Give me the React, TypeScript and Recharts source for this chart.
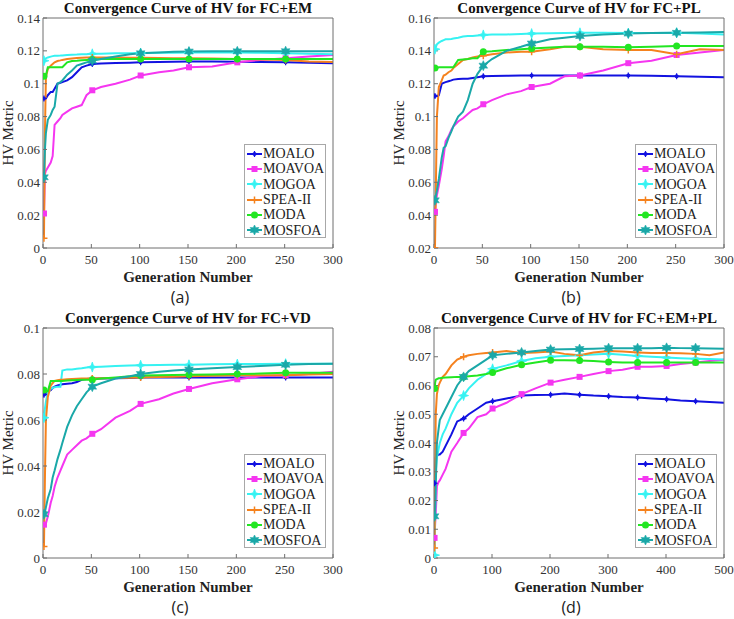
import React from "react";
import { LineChart, Line, XAxis, YAxis } from "recharts";

// generation numbers where each curve is sampled
const gens300 = [1, 2, 3, 5, 8, 10, 12, 15, 18, 20, 25, 30, 35, 40, 45, 51, 60, 75, 90, 101, 120, 135, 151, 175, 201, 225, 251, 275, 300];
const gens500 = [1, 2, 3, 5, 8, 10, 15, 20, 30, 40, 51, 60, 75, 90, 101, 125, 151, 175, 201, 225, 251, 275, 301, 325, 351, 375, 401, 425, 451, 475, 500];
// markers every 50 generations
const markerGens = [1, 51, 101, 151, 201, 251, 301, 351, 401, 451];

const algorithms = ["MOALO", "MOAVOA", "MOGOA", "SPEA-II", "MODA", "MOSFOA"];
const colors = ["#1212e0", "#f536f0", "#36f2f2", "#f5821e", "#22e622", "#1aa8a8"];
const shapes = ["dot", "square", "star4", "plus", "circle", "hexagram"];

// FC+EM
const emMoalo = [0.091, 0.091, 0.091, 0.093, 0.095, 0.095, 0.097, 0.1, 0.1005, 0.101, 0.102, 0.104, 0.107, 0.11, 0.111, 0.112, 0.1123, 0.1126, 0.1128, 0.113, 0.1132, 0.1134, 0.1135, 0.1135, 0.1134, 0.1132, 0.113, 0.1127, 0.1125];
const emMoavoa = [0.021, 0.045, 0.047, 0.049, 0.052, 0.056, 0.075, 0.077, 0.079, 0.081, 0.083, 0.085, 0.086, 0.087, 0.093, 0.096, 0.098, 0.1, 0.1025, 0.105, 0.107, 0.108, 0.11, 0.1105, 0.113, 0.1145, 0.1155, 0.1165, 0.1175];
const emMogoa = [0.114, 0.115, 0.1155, 0.116, 0.1165, 0.1168, 0.117, 0.117, 0.1171, 0.1172, 0.1175, 0.1177, 0.1178, 0.118, 0.118, 0.1182, 0.1183, 0.1185, 0.1186, 0.1187, 0.1188, 0.1189, 0.119, 0.119, 0.119, 0.1188, 0.1185, 0.1182, 0.118];
const emSpea2 = [0.006, 0.07, 0.104, 0.109, 0.111, 0.112, 0.113, 0.1138, 0.1142, 0.1145, 0.115, 0.1153, 0.1156, 0.1158, 0.116, 0.116, 0.116, 0.116, 0.1158, 0.1158, 0.1156, 0.1155, 0.1155, 0.1153, 0.115, 0.1148, 0.1145, 0.1135, 0.1132];
const emModa = [0.1045, 0.1045, 0.105, 0.11, 0.11, 0.11, 0.11, 0.11, 0.11, 0.11, 0.113, 0.1138, 0.114, 0.1143, 0.1145, 0.1148, 0.115, 0.115, 0.115, 0.115, 0.115, 0.115, 0.115, 0.115, 0.115, 0.115, 0.115, 0.115, 0.115];
const emMosfoa = [0.043, 0.06, 0.07, 0.078, 0.081, 0.084, 0.086, 0.1, 0.101, 0.102, 0.1055, 0.108, 0.111, 0.112, 0.113, 0.114, 0.115, 0.1165, 0.118, 0.1185, 0.119, 0.1195, 0.1196, 0.1197, 0.1197, 0.1198, 0.1198, 0.1198, 0.1198];

// FC+PL
const plMoalo = [0.1125, 0.1125, 0.1125, 0.113, 0.12, 0.1205, 0.121, 0.1215, 0.122, 0.1225, 0.1228, 0.123, 0.123, 0.1235, 0.124, 0.1245, 0.1247, 0.1248, 0.125, 0.125, 0.125, 0.125, 0.125, 0.125, 0.125, 0.1248, 0.1245, 0.1243, 0.124];
const plMoavoa = [0.042, 0.048, 0.052, 0.058, 0.068, 0.076, 0.085, 0.088, 0.092, 0.094, 0.097, 0.099, 0.1015, 0.104, 0.105, 0.1075, 0.11, 0.1135, 0.1155, 0.118, 0.12, 0.1245, 0.125, 0.128, 0.1325, 0.134, 0.1375, 0.139, 0.1405];
const plMogoa = [0.141, 0.1425, 0.144, 0.145, 0.146, 0.1465, 0.147, 0.147, 0.1472, 0.1475, 0.148, 0.1487, 0.149, 0.149, 0.1493, 0.1497, 0.15, 0.15, 0.1503, 0.1505, 0.1507, 0.1508, 0.151, 0.151, 0.1508, 0.1508, 0.151, 0.1505, 0.15];
const plSpea2 = [0.02, 0.06, 0.1, 0.118, 0.122, 0.125, 0.1255, 0.127, 0.128, 0.1295, 0.132, 0.1345, 0.135, 0.136, 0.1365, 0.137, 0.138, 0.139, 0.1395, 0.1395, 0.141, 0.1425, 0.1425, 0.141, 0.1405, 0.1405, 0.138, 0.141, 0.1405];
const plModa = [0.1295, 0.1295, 0.1295, 0.13, 0.13, 0.13, 0.13, 0.13, 0.13, 0.13, 0.1345, 0.1348, 0.135, 0.1355, 0.1355, 0.1395, 0.1398, 0.1405, 0.141, 0.1415, 0.142, 0.1425, 0.1425, 0.1425, 0.1422, 0.1425, 0.143, 0.143, 0.143];
const plMosfoa = [0.049, 0.052, 0.055, 0.062, 0.075, 0.081, 0.082, 0.087, 0.091, 0.094, 0.1, 0.103, 0.11, 0.12, 0.126, 0.131, 0.135, 0.14, 0.1425, 0.1445, 0.147, 0.148, 0.149, 0.15, 0.1505, 0.1508, 0.151, 0.1512, 0.1515];

// FC+VD
const vdMoalo = [0.071, 0.071, 0.0715, 0.0725, 0.073, 0.074, 0.0745, 0.075, 0.0753, 0.0755, 0.0758, 0.076, 0.0765, 0.0775, 0.0778, 0.078, 0.078, 0.0782, 0.0783, 0.0785, 0.0785, 0.0785, 0.0785, 0.0785, 0.0785, 0.0785, 0.0785, 0.0785, 0.0785];
const vdMoavoa = [0.0145, 0.0145, 0.015, 0.018, 0.024, 0.027, 0.031, 0.035, 0.038, 0.04, 0.045, 0.047, 0.049, 0.051, 0.052, 0.054, 0.056, 0.061, 0.064, 0.067, 0.069, 0.0715, 0.0735, 0.076, 0.0777, 0.079, 0.0795, 0.08, 0.081];
const vdMogoa = [0.061, 0.065, 0.068, 0.072, 0.0735, 0.074, 0.0742, 0.0745, 0.0745, 0.0815, 0.082, 0.082, 0.0823, 0.0825, 0.0828, 0.083, 0.0832, 0.0835, 0.0837, 0.0838, 0.0839, 0.084, 0.084, 0.0842, 0.0843, 0.0844, 0.0845, 0.0845, 0.0845];
const vdSpea2 = [0.005, 0.035, 0.06, 0.07, 0.075, 0.076, 0.077, 0.0773, 0.0775, 0.0775, 0.0777, 0.0778, 0.0779, 0.078, 0.078, 0.078, 0.0781, 0.0783, 0.0784, 0.0785, 0.0787, 0.0788, 0.079, 0.0792, 0.0795, 0.0795, 0.0795, 0.0798, 0.08];
const vdModa = [0.073, 0.0728, 0.0725, 0.0725, 0.077, 0.077, 0.077, 0.077, 0.077, 0.077, 0.0772, 0.0773, 0.0774, 0.0775, 0.0775, 0.0775, 0.078, 0.0785, 0.079, 0.0793, 0.0795, 0.0796, 0.0797, 0.0798, 0.08, 0.0802, 0.0805, 0.0805, 0.0805];
const vdMosfoa = [0.019, 0.02, 0.022, 0.026, 0.03, 0.035, 0.038, 0.043, 0.047, 0.05, 0.057, 0.062, 0.066, 0.069, 0.072, 0.0745, 0.076, 0.078, 0.079, 0.08, 0.081, 0.0815, 0.082, 0.0825, 0.083, 0.0835, 0.084, 0.0843, 0.0845];

// FC+EM+PL
const allMoalo = [0.026, 0.03, 0.035, 0.0355, 0.036, 0.036, 0.037, 0.039, 0.043, 0.0475, 0.0485, 0.05, 0.052, 0.054, 0.0545, 0.0555, 0.0565, 0.0567, 0.0568, 0.0572, 0.0568, 0.0565, 0.0563, 0.056, 0.0558, 0.0555, 0.0552, 0.0548, 0.0545, 0.0543, 0.054];
const allMoavoa = [0.007, 0.012, 0.015, 0.025, 0.0265, 0.027, 0.029, 0.031, 0.037, 0.04, 0.0435, 0.045, 0.049, 0.05, 0.052, 0.054, 0.057, 0.059, 0.061, 0.062, 0.063, 0.064, 0.065, 0.0655, 0.0665, 0.0665, 0.0668, 0.0675, 0.068, 0.0685, 0.069];
const allMogoa = [0.001, 0.015, 0.03, 0.035, 0.038, 0.04, 0.043, 0.045, 0.05, 0.054, 0.0565, 0.059, 0.062, 0.064, 0.0658, 0.067, 0.0685, 0.0695, 0.07, 0.0703, 0.0705, 0.0708, 0.071, 0.0707, 0.0703, 0.07, 0.0697, 0.0695, 0.0693, 0.0692, 0.069];
const allSpea2 = [0.0035, 0.03, 0.05, 0.057, 0.06, 0.061, 0.063, 0.064, 0.067, 0.069, 0.07, 0.0705, 0.071, 0.0713, 0.0715, 0.072, 0.0713, 0.0715, 0.0718, 0.071, 0.0705, 0.0715, 0.072, 0.0718, 0.0715, 0.0713, 0.0713, 0.0712, 0.071, 0.0705, 0.0715];
const allModa = [0.059, 0.061, 0.062, 0.0622, 0.0625, 0.0625, 0.0627, 0.0628, 0.0629, 0.063, 0.063, 0.0632, 0.0635, 0.064, 0.0645, 0.066, 0.0672, 0.068, 0.0688, 0.0688, 0.0687, 0.0685, 0.0682, 0.068, 0.068, 0.068, 0.068, 0.068, 0.068, 0.068, 0.068];
const allMosfoa = [0.0145, 0.018, 0.025, 0.04, 0.045, 0.048, 0.05, 0.052, 0.056, 0.06, 0.063, 0.065, 0.067, 0.069, 0.0705, 0.071, 0.0715, 0.072, 0.0725, 0.0726, 0.0727, 0.0728, 0.073, 0.073, 0.073, 0.073, 0.0731, 0.073, 0.073, 0.0729, 0.0728];

const xTicks300 = [0, 50, 100, 150, 200, 250, 300];
const xTicks500 = [0, 100, 200, 300, 400, 500];
const yTicksEM = [0, 0.02, 0.04, 0.06, 0.08, 0.1, 0.12, 0.14];
const yTicksPL = [0.02, 0.04, 0.06, 0.08, 0.1, 0.12, 0.14, 0.16];
const yTicksVD = [0, 0.02, 0.04, 0.06, 0.08, 0.1];
const yTicksAll = [0, 0.01, 0.02, 0.03, 0.04, 0.05, 0.06, 0.07, 0.08];

const serif = "'Liberation Serif', 'Times New Roman', serif";
const axisColor = "#6f6f6f";

function buildRows(gens: number[], series: number[][]) {
  return gens.map((gen, i) => {
    const row: Record<string, number> = { gen };
    algorithms.forEach((name, k) => {
      row[name] = series[k][i];
    });
    return row;
  });
}

function starPoints(cx: number, cy: number, n: number, ro: number, ri: number) {
  const pts: string[] = [];
  for (let k = 0; k < 2 * n; k++) {
    const a = -Math.PI / 2 + (k * Math.PI) / n;
    const r = k % 2 ? ri : ro;
    pts.push(`${cx + r * Math.cos(a)},${cy + r * Math.sin(a)}`);
  }
  return pts.join(" ");
}

function Marker({ shape, color, cx, cy }: { shape: string; color: string; cx: number; cy: number }) {
  switch (shape) {
    case "dot":
      return (
        <g>
          <circle cx={cx} cy={cy} r={2} fill={color} />
          <path d={`M${cx - 3},${cy}H${cx + 3}M${cx},${cy - 3}V${cy + 3}`} stroke={color} strokeWidth={1.2} />
        </g>
      );
    case "square":
      return <rect x={cx - 3} y={cy - 3} width={6} height={6} fill={color} />;
    case "star4":
      return <polygon points={starPoints(cx, cy, 4, 5, 1.8)} fill={color} stroke={color} strokeWidth={0.8} />;
    case "plus":
      return <path d={`M${cx - 3.5},${cy}H${cx + 3.5}M${cx},${cy - 3.5}V${cy + 3.5}`} stroke={color} strokeWidth={1.5} />;
    case "circle":
      return <circle cx={cx} cy={cy} r={3.5} fill={color} />;
    default:
      return <polygon points={starPoints(cx, cy, 6, 5, 2.6)} fill={color} stroke={color} strokeWidth={0.6} />;
  }
}

function LegendBox({ left, top }: { left: number; top: number }) {
  return (
    <div
      style={{
        position: "absolute",
        left,
        top,
        width: 82,
        height: 94,
        boxSizing: "border-box",
        border: "1px solid #a8a8a8",
        background: "#fff",
        paddingTop: 1,
      }}
    >
      {algorithms.map((name, i) => (
        <div key={name} style={{ display: "flex", alignItems: "center", height: 15.3 }}>
          <svg width={18} height={14} style={{ flex: "none" }}>
            <line x1={2} y1={7} x2={17} y2={7} stroke={colors[i]} strokeWidth={2} />
            <Marker shape={shapes[i]} color={colors[i]} cx={9.5} cy={7} />
          </svg>
          <span style={{ fontFamily: serif, fontSize: 14, color: "#222", lineHeight: "15px", whiteSpace: "nowrap" }}>{name}</span>
        </div>
      ))}
    </div>
  );
}

interface PanelProps {
  x: number;
  y: number;
  title: string;
  tag: string;
  gens: number[];
  series: number[][];
  xMax: number;
  xTicks: number[];
  yTicks: number[];
}

const fmtY = (v: number) => String(Number(v.toFixed(2)));

function Panel({ x, y, title, tag, gens, series, xMax, xTicks, yTicks }: PanelProps) {
  const data = buildRows(gens, series);
  const yDomain = [yTicks[0], yTicks[yTicks.length - 1]];
  const tickStyle = { fill: "#333", fontSize: 13, fontFamily: serif };

  return (
    <>
      <div
        style={{
          position: "absolute",
          left: x - 30,
          top: y - 19,
          width: 350,
          textAlign: "center",
          fontFamily: serif,
          fontWeight: "bold",
          fontSize: 15,
          lineHeight: "18px",
          color: "#111",
        }}
      >
        {title}
      </div>
      <div style={{ position: "absolute", left: x - 43, top: y - 18 }}>
        <LineChart width={343} height={276} data={data} margin={{ top: 17, right: 9, left: 0, bottom: 0 }}>
          <XAxis
            dataKey="gen"
            type="number"
            domain={[0, xMax]}
            ticks={xTicks}
            interval={0}
            allowDataOverflow
            height={28}
            stroke={axisColor}
            tickSize={-4}
            tickMargin={11}
            tick={tickStyle}
          />
          <XAxis
            xAxisId="top"
            orientation="top"
            dataKey="gen"
            type="number"
            domain={[0, xMax]}
            ticks={xTicks}
            interval={0}
            allowDataOverflow
            height={1}
            stroke={axisColor}
            tickSize={-4}
            tick={false}
          />
          <YAxis
            type="number"
            domain={yDomain}
            ticks={yTicks}
            interval={0}
            allowDataOverflow
            width={43}
            stroke={axisColor}
            tickSize={-4}
            tickMargin={7}
            tick={tickStyle}
            tickFormatter={fmtY}
          />
          <YAxis
            yAxisId="right"
            orientation="right"
            type="number"
            domain={yDomain}
            ticks={yTicks}
            interval={0}
            allowDataOverflow
            width={1}
            stroke={axisColor}
            tickSize={-4}
            tick={false}
          />
          {algorithms.map((name, i) => (
            <Line
              key={name}
              dataKey={name}
              type="linear"
              stroke={colors[i]}
              strokeWidth={2}
              isAnimationActive={false}
              activeDot={false}
              dot={(p: any) =>
                markerGens.includes(p.payload.gen) ? (
                  <Marker key={`${name}-${p.index}`} shape={shapes[i]} color={colors[i]} cx={p.cx} cy={p.cy} />
                ) : (
                  <g key={`${name}-${p.index}`} />
                )
              }
            />
          ))}
        </LineChart>
      </div>
      <LegendBox left={x + 201} top={y + 126} />
      <div
        style={{
          position: "absolute",
          left: x - 35 - 60,
          top: y + 115 - 9,
          width: 120,
          height: 18,
          lineHeight: "18px",
          textAlign: "center",
          transform: "rotate(-90deg)",
          fontFamily: serif,
          fontSize: 15,
          color: "#222",
        }}
      >
        HV Metric
      </div>
      <div
        style={{
          position: "absolute",
          left: x,
          top: y + 250,
          width: 290,
          textAlign: "center",
          fontFamily: serif,
          fontWeight: "bold",
          fontSize: 15,
          lineHeight: "18px",
          color: "#222",
        }}
      >
        Generation Number
      </div>
      <div
        style={{
          position: "absolute",
          left: x + 137 - 30,
          top: y + 269,
          width: 60,
          textAlign: "center",
          fontFamily: "'Open Sans', 'Noto Sans', sans-serif",
          fontSize: 16,
          lineHeight: "20px",
          color: "#222",
        }}
      >
        {tag}
      </div>
    </>
  );
}

export default function App() {
  return (
    <div style={{ position: "absolute", left: 0, top: 0, width: 734, height: 619, background: "#fff", overflow: "hidden" }}>
      <Panel
        x={43}
        y={18}
        title="Convergence Curve of HV for FC+EM"
        tag="(a)"
        gens={gens300}
        series={[emMoalo, emMoavoa, emMogoa, emSpea2, emModa, emMosfoa]}
        xMax={300}
        xTicks={xTicks300}
        yTicks={yTicksEM}
      />
      <Panel
        x={434}
        y={18}
        title="Convergence Curve of HV for FC+PL"
        tag="(b)"
        gens={gens300}
        series={[plMoalo, plMoavoa, plMogoa, plSpea2, plModa, plMosfoa]}
        xMax={300}
        xTicks={xTicks300}
        yTicks={yTicksPL}
      />
      <Panel
        x={43}
        y={328}
        title="Convergence Curve of HV for FC+VD"
        tag="(c)"
        gens={gens300}
        series={[vdMoalo, vdMoavoa, vdMogoa, vdSpea2, vdModa, vdMosfoa]}
        xMax={300}
        xTicks={xTicks300}
        yTicks={yTicksVD}
      />
      <Panel
        x={434}
        y={328}
        title="Convergence Curve of HV for FC+EM+PL"
        tag="(d)"
        gens={gens500}
        series={[allMoalo, allMoavoa, allMogoa, allSpea2, allModa, allMosfoa]}
        xMax={500}
        xTicks={xTicks500}
        yTicks={yTicksAll}
      />
    </div>
  );
}
